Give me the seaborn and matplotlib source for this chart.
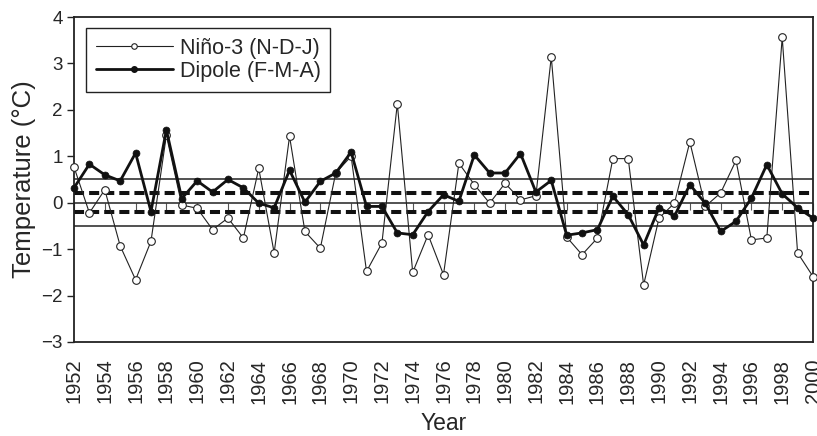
import matplotlib
matplotlib.use("Agg")
import matplotlib.pyplot as plt
import seaborn as sns
import pandas as pd
from matplotlib.lines import Line2D

years = list(range(1952, 2001))
nino3 = [0.77, -0.22, 0.28, -0.93, -1.66, -0.83, 1.45, -0.05, -0.12, -0.58,
         -0.33, -0.76, 0.74, -1.08, 1.43, -0.62, -0.98, 0.64, 1.00, -1.48,
         -0.87, 2.13, -1.50, -0.69, -1.55, 0.85, 0.39, -0.01, 0.42, 0.06,
         0.15, 3.14, -0.74, -1.12, -0.76, 0.95, 0.95, -1.77, -0.33, -0.01,
         1.31, -0.08, 0.21, 0.91, -0.80, -0.76, 3.56, -1.08, -1.59]
dipole = [0.32, 0.83, 0.60, 0.47, 1.07, -0.19, 1.57, 0.09, 0.47, 0.23,
          0.50, 0.32, -0.01, -0.11, 0.70, 0.01, 0.46, 0.64, 1.09, -0.08,
          -0.08, -0.65, -0.69, -0.19, 0.17, 0.03, 1.03, 0.64, 0.64, 1.06,
          0.23, 0.48, -0.70, -0.65, -0.58, 0.14, -0.26, -0.91, -0.11, -0.29,
          0.39, -0.01, -0.62, -0.40, 0.10, 0.82, 0.19, -0.11, -0.33]
series_labels = ["Niño-3 (N-D-J)", "Dipole (F-M-A)"]
thresholds_solid = [-0.5, 0.0, 0.5]
thresholds_dashed = [-0.2, 0.2]
year_ticks = list(range(1952, 2001, 2))
y_ticks = [-3, -2, -1, 0, 1, 2, 3, 4]

sns.set_theme(style="white")
plt.rcParams['font.family'] = ['Liberation Sans', 'DejaVu Sans']

df = pd.DataFrame({"Year": years, "nino": nino3, "dipole": dipole})

fig = plt.figure(figsize=(8.17, 4.36), dpi=100)
ax = fig.add_axes([74/817, 1-342/436, (813-74)/817, (342-17)/436])

for t in thresholds_solid:
    ax.axhline(t, color="#222222", lw=1.1, zorder=1)
for t in thresholds_dashed:
    ax.axhline(t, color="#111111", lw=2.9, linestyle=(0, (2.5, 1.25)), zorder=1)

sns.lineplot(data=df, x="Year", y="nino", ax=ax, color="#222222", lw=0.8,
             marker="o", markersize=5.5, markerfacecolor="white",
             markeredgecolor="#222222", markeredgewidth=0.8, clip_on=False, zorder=3)
sns.lineplot(data=df, x="Year", y="dipole", ax=ax, color="#111111", lw=2.0,
             marker="o", markersize=5.0, markerfacecolor="#111111",
             markeredgecolor="#111111", markeredgewidth=0.5, clip_on=False, zorder=4)

ax.set_xlim(1952, 2000)
ax.set_ylim(-3, 4)
ax.set_yticks(y_ticks)
ax.set_yticklabels([str(v).replace("-", "\u2212") for v in y_ticks], fontsize=13.5)
ax.set_xticks(year_ticks)
ax.set_xticklabels([str(y) for y in year_ticks], rotation=90, fontsize=14.5)
ax.tick_params(axis="y", which="both", left=True, direction="out", length=5,
               width=1.0, color="#222222", pad=3)
ax.tick_params(axis="x", which="both", bottom=False, length=0, pad=12)
for s in ax.spines.values():
    s.set_color("#222222")
    s.set_linewidth(1.3)

sec = ax.secondary_xaxis((0 - (-3)) / 7)
sec.set_xticks(year_ticks)
sec.set_xticklabels([])
sec.tick_params(axis="x", direction="out", length=5, width=0.8, color="#555555")
sec.spines["bottom"].set_visible(False)

ax.set_xlabel("Year", fontsize=16.5, labelpad=6)
ax.set_ylabel("Temperature (°C)", fontsize=18.5, labelpad=4)

handles = [
    Line2D([], [], color="#222222", lw=0.8, marker="o", markersize=4,
           markerfacecolor="white", markeredgecolor="#222222", markeredgewidth=0.8),
    Line2D([], [], color="#111111", lw=2.0, marker="o", markersize=4,
           markerfacecolor="#111111", markeredgecolor="#111111"),
]
leg = ax.legend(handles, series_labels, loc="upper left",
                bbox_to_anchor=((86-74)/739, 1-(28-17)/325), borderaxespad=0,
                fontsize=15.5, handlelength=3.6, handletextpad=0.3,
                labelspacing=0.1, borderpad=0.45, frameon=True, fancybox=False,
                edgecolor="#222222", framealpha=1)
leg.get_frame().set_linewidth(1.0)

fig.savefig("out.png", dpi=100)
